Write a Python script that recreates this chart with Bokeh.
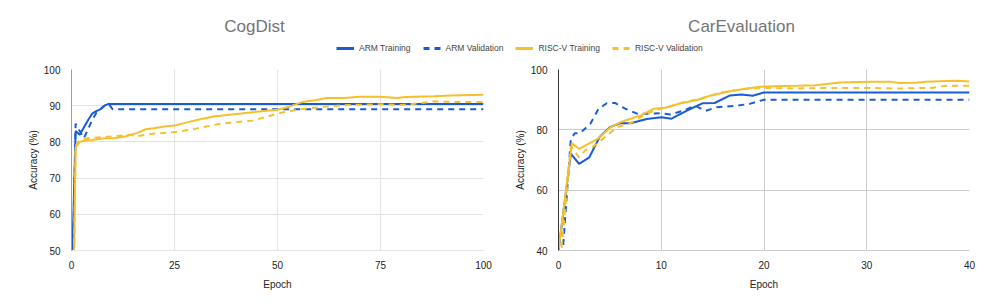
from bokeh.plotting import figure
from bokeh.models import Range1d, Legend, LegendItem, FixedTicker, ColumnDataSource
from bokeh.layouts import column, row
from bokeh.embed import file_html
from bokeh.resources import INLINE
from bokeh.core.properties import value

# ---------------- data ----------------
titles = ["CogDist", "CarEvaluation"]
series_names = ["ARM Training", "ARM Validation", "RISC-V Training", "RISC-V Validation"]

# CogDist
cog_arm_train_x = [0, 1, 2, 3, 4, 5, 6, 7, 8, 9, 100]
cog_arm_train_y = [40, 83, 82, 84, 86, 87.8, 88.5, 89, 90, 90.5, 90.5]
cog_arm_val_x = [0, 1, 2, 3, 4, 5, 6, 7, 8, 9, 10, 100]
cog_arm_val_y = [20, 85, 83, 81, 83.5, 86, 88, 89, 90, 90.5, 89, 89]
cog_risc_train_x = [0, 1, 2, 3, 5, 8, 10, 13, 16, 18, 20, 23, 25, 28, 31, 34.5, 39, 44, 50, 53, 56, 59, 62, 66, 70, 75, 79, 81, 88, 92, 100]
cog_risc_train_y = [0, 78.5, 80, 80.3, 80.5, 81, 81, 81.5, 82.5, 83.5, 83.8, 84.3, 84.5, 85.4, 86.2, 87, 87.6, 88.2, 88.9, 89.8, 91, 91.5, 92.1, 92.1, 92.5, 92.5, 92.1, 92.4, 92.6, 92.8, 93]
cog_risc_val_x = [0, 1, 2, 4, 7, 11, 14, 16, 20, 25, 30, 36, 40, 44, 47, 50, 53, 56, 60, 63, 67, 75, 80, 84, 88, 94, 100]
cog_risc_val_y = [0, 79, 80.5, 81, 81.3, 81.6, 82, 81.6, 82.3, 82.7, 83.6, 85, 85.5, 85.9, 86.8, 87.8, 88.5, 89.1, 89.5, 89.9, 90.2, 90.4, 90.2, 90.6, 91.2, 91, 91]

# CarEvaluation
car_arm_train_x = [0, 1.2, 2, 3, 4, 5, 6, 7, 8.6, 10, 11, 12.5, 14, 15.2, 16.7, 17.8, 18.9, 20, 40]
car_arm_train_y = [40, 72.1, 68.7, 70.9, 77.6, 80.9, 82.2, 82.2, 83.6, 84.2, 83.7, 86.4, 88.8, 88.9, 91.4, 91.7, 91.3, 92.4, 92.4]
car_arm_val_x = [0, 1.2, 1.6, 2.1, 3.1, 3.9, 4.7, 5.5, 6.5, 7.7, 8.6, 9.9, 10.9, 12.2, 13.3, 14.3, 15.4, 17.3, 18.6, 20, 40]
car_arm_val_y = [20, 77, 78.9, 78.9, 82, 87, 88.8, 88.9, 87, 85.3, 85.3, 85.5, 85.1, 86.4, 88, 86.3, 87.5, 88, 88.6, 90, 90]
car_risc_train_x = [0, 1.3, 2, 3, 3.8, 5.1, 6, 8, 9.3, 10.4, 11.9, 13.5, 14.8, 16.7, 18.6, 20, 23.2, 25, 27.4, 30.3, 32.3, 33.2, 34.8, 35.8, 37.7, 38.8, 40]
car_risc_train_y = [40, 75.6, 73.7, 75.5, 77, 80.9, 82.5, 84.8, 87, 87.3, 88.8, 89.9, 91.4, 92.8, 93.9, 94.4, 94.6, 94.8, 95.7, 95.9, 95.9, 95.5, 95.6, 95.9, 96.2, 96.3, 96]
car_risc_val_x = [0, 1.2, 2, 2.6, 3.4, 4.7, 5.7, 7, 8.3, 9.3, 10.6, 12.2, 13.8, 16, 18.3, 20, 23.2, 26.5, 29.7, 33, 36.3, 37.8, 40]
car_risc_val_y = [30, 74.5, 70.9, 73.2, 74.5, 78.1, 80.9, 82.2, 84.8, 86.4, 87.5, 89.2, 90.3, 92.5, 93.6, 93.9, 93.7, 93.9, 93.9, 93.7, 93.9, 94.6, 94.6]

cog_x_ticks = [0, 25, 50, 75, 100]
cog_y_ticks = [50, 60, 70, 80, 90, 100]
car_x_ticks = [0, 10, 20, 30, 40]
car_y_ticks = [40, 60, 80, 100]

# ---------------- style ----------------
FONT = "Liberation Sans"
BLUE = "#1a5cd6"
YELLOW = "#f5c02c"
colors = [BLUE, BLUE, YELLOW, YELLOW]
dashes = ["solid", "6 5", "solid", "6 5"]


def make_panel(series, xr, yr, xt, yt, width, bl, br, grid_col, yaxis_col):
    p = figure(width=width, height=241, output_backend="svg", toolbar_location=None,
               x_range=Range1d(*xr), y_range=Range1d(*yr),
               min_border_left=bl, min_border_right=br, min_border_top=10, min_border_bottom=50)
    p.outline_line_color = None
    for (xs, ys), c, d in zip(series, colors, dashes):
        p.line(xs, ys, line_color=c, line_width=2, line_dash=d)
    p.xaxis.ticker = FixedTicker(ticks=xt)
    p.yaxis.ticker = FixedTicker(ticks=yt)
    for ax in (p.xaxis[0], p.yaxis[0]):
        ax.major_tick_line_color = None
        ax.minor_tick_line_color = None
        ax.major_label_text_font = FONT
        ax.major_label_text_font_size = "10px"
        ax.major_label_text_color = "#222222"
        ax.axis_label_text_font = FONT
        ax.axis_label_text_font_size = "10px"
        ax.axis_label_text_font_style = "normal"
        ax.axis_label_text_color = "#222222"
    p.xaxis.major_label_standoff = 4
    p.yaxis.major_label_standoff = 5
    p.xaxis.axis_label = "Epoch"
    p.yaxis.axis_label = "Accuracy (%)"
    p.xaxis.axis_label_standoff = 7
    p.yaxis.axis_label_standoff = 2
    p.xaxis.axis_line_color = grid_col
    p.yaxis.axis_line_color = yaxis_col
    p.xgrid.grid_line_color = grid_col
    p.ygrid.grid_line_color = grid_col
    p.xgrid.ticker = FixedTicker(ticks=xt)
    p.ygrid.ticker = FixedTicker(ticks=yt)
    return p


p1 = make_panel([(cog_arm_train_x, cog_arm_train_y), (cog_arm_val_x, cog_arm_val_y),
                 (cog_risc_train_x, cog_risc_train_y), (cog_risc_val_x, cog_risc_val_y)],
                (0, 100), (50, 100), cog_x_ticks, cog_y_ticks, 500, 71, 17, "#e3e3e3", "#9e9e9e")
p2 = make_panel([(car_arm_train_x, car_arm_train_y), (car_arm_val_x, car_arm_val_y),
                 (car_risc_train_x, car_risc_train_y), (car_risc_val_x, car_risc_val_y)],
                (0, 40), (40, 100), car_x_ticks, car_y_ticks, 480, 58, 11, "#cccccc", "#333333")

# header: titles + shared legend
h = figure(width=980, height=59, output_backend="svg", toolbar_location=None,
           x_range=Range1d(0, 980), y_range=Range1d(0, 59),
           min_border=0)
h.axis.visible = False
h.grid.visible = False
h.outline_line_color = None
tsrc = ColumnDataSource(dict(x=[254, 741], y=[33, 33], t=titles))
h.text(x="x", y="y", text="t", source=tsrc, text_font=value(FONT), text_font_size="17px",
       text_color="#757575", text_align="center", text_baseline="middle")
items = []
for name, c, d in zip(series_names, colors, dashes):
    r = h.line([-100, -90], [-100, -100], line_color=c, line_width=3, line_dash=d)
    items.append(LegendItem(label=name, renderers=[r]))
leg = Legend(items=items, orientation="horizontal", location=(336, 5),
             glyph_width=18, glyph_height=12, label_height=12, label_standoff=5,
             spacing=12, padding=0, margin=0, border_line_color=None,
             background_fill_alpha=0,
             label_text_font=FONT, label_text_font_size="8.5px", label_text_color="#444444")
h.add_layout(leg, "center")

layout = column(h, row(p1, p2))
open("out.html", "w").write(file_html(layout, INLINE))
